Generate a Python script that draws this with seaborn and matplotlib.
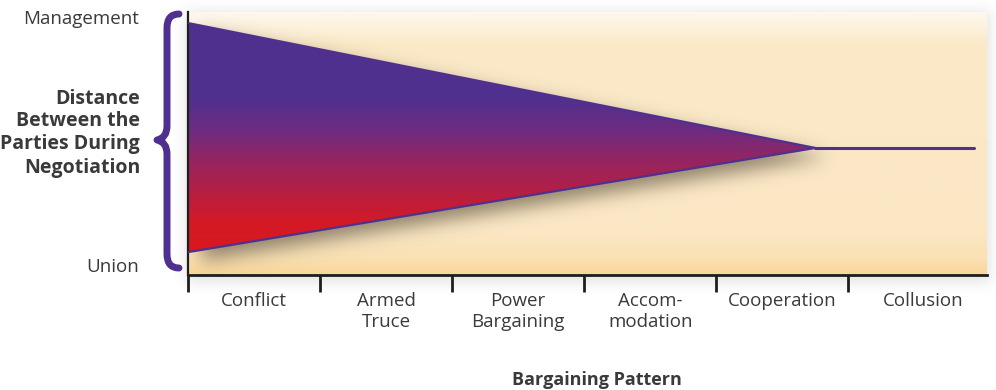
import numpy as np
import matplotlib.pyplot as plt
import seaborn as sns
from matplotlib.colors import LinearSegmentedColormap
from matplotlib.path import Path
from matplotlib.patches import PathPatch, Polygon

# bargaining patterns along the x axis (one unit per pattern)
patterns = ["Conflict", "Armed\nTruce", "Power\nBargaining",
            "Accom-\nmodation", "Cooperation", "Collusion"]
pattern_bounds = [0, 1, 2, 3, 4, 5]
label_pos = [0.5, 1.5, 2.5, 3.5, 4.5, 5.57]

# distance between the parties (0 = union, 10 = management)
wedge_x = [0.0, 4.75, 5.95]
upper = [9.58, 4.83, 4.83]
lower = [0.87, 4.83, 4.83]

W, H = 996, 390
XMAX = 6.05
PURPLE = "#50308f"
TEXT = "#3a3a3a"


def blur(img, sigma):
    r = int(3 * sigma)
    k = np.exp(-np.arange(-r, r + 1) ** 2 / (2 * sigma ** 2))
    k /= k.sum()
    img = np.apply_along_axis(lambda v: np.convolve(v, k, mode="same"), 0, img)
    img = np.apply_along_axis(lambda v: np.convolve(v, k, mode="same"), 1, img)
    return img


sns.set_theme(style="white")
plt.rcParams["font.family"] = ["Open Sans", "DejaVu Sans"]

fig = plt.figure(figsize=(W / 100, H / 100), dpi=100)

# soft shadow around the panel
bgax = fig.add_axes([0, 0, 1, 1], zorder=-5)
panel = np.zeros((H, W))
panel[12:282, 186:990] = 1
halo = blur(panel, 7) * 0.17
rgba = np.zeros((H, W, 4))
rgba[..., :3] = 0.35
rgba[..., 3] = halo
bgax.imshow(rgba, aspect="auto", extent=[0, W, H, 0])
bgax.set_xlim(0, W)
bgax.set_ylim(H, 0)
bgax.axis("off")

ax = fig.add_axes([188 / W, 1 - 275 / H, (987 - 188) / W, (275 - 12) / H])
ax.set_xlim(0, XMAX)
ax.set_ylim(0, 10)
ax.patch.set_visible(False)

# beige panel
bg = LinearSegmentedColormap.from_list(
    "bg", [(0, "#f9d698"), (0.06, "#fae0b2"), (0.16, "#fbe7c4"),
           (0.88, "#fbe9c8"), (0.95, "#fdf2df"), (1, "#fef8ee")])
ax.imshow(np.linspace(0, 1, 256)[:, None], cmap=bg, origin="lower",
          aspect="auto", extent=[0, XMAX, 0, 10], zorder=0)

# wedge polygon
verts = [(wedge_x[0], upper[0]), (wedge_x[1], upper[1]), (wedge_x[0], lower[0])]

# shadow under the wedge
gx = np.linspace(0, XMAX, 800)
gy = np.linspace(0, 10, 263)
XX, YY = np.meshgrid(gx, gy)
pts = np.column_stack([XX.ravel() - 0.1, YY.ravel() + 0.35])
mask = Path(verts).contains_points(pts).reshape(XX.shape).astype(float)
sh = blur(mask, 9)
srgba = np.zeros(mask.shape + (4,))
srgba[..., 0] = 0.40
srgba[..., 1] = 0.36
srgba[..., 2] = 0.28
srgba[..., 3] = sh * 0.7
ax.imshow(srgba, origin="lower", aspect="auto", extent=[0, XMAX, 0, 10], zorder=1)

# gradient fill of the wedge
y0, y1 = lower[0], upper[0]
stops = [(0.87, "#d9181f"), (2.0, "#d41a26"), (3.2, "#b41f45"),
         (4.4, "#932663"), (5.5, "#6d2c81"), (6.7, "#50308f"), (9.58, "#50308f")]
wcmap = LinearSegmentedColormap.from_list(
    "wedge", [((v - y0) / (y1 - y0), c) for v, c in stops])
im = ax.imshow(np.linspace(0, 1, 256)[:, None], cmap=wcmap, origin="lower",
               aspect="auto", extent=[0, wedge_x[1], y0, y1], zorder=2)
clip = Polygon(verts, closed=True, transform=ax.transData)
im.set_clip_path(clip)

# edges of the wedge and the collusion line
sns.lineplot(x=wedge_x[:2], y=upper[:2], color=PURPLE, lw=1.6, ax=ax, zorder=4)
sns.lineplot(x=wedge_x[:2], y=lower[:2], color=PURPLE, lw=1.6, ax=ax, zorder=4)
sns.lineplot(x=wedge_x[1:], y=upper[1:], color=PURPLE, lw=2.2, ax=ax, zorder=4)

# axes styling
for s in ["top", "right"]:
    ax.spines[s].set_visible(False)
ax.spines["left"].set_color("#1e1e1e")
ax.spines["left"].set_linewidth(1.6)
ax.spines["bottom"].set_color("#1e1e1e")
ax.spines["bottom"].set_linewidth(2.0)
ax.set_yticks([])
ax.set_xticks(pattern_bounds)
ax.set_xticklabels([""] * len(pattern_bounds))
ax.set_xticks(label_pos, patterns, minor=True)
ax.tick_params(axis="x", which="major", direction="out", length=12, width=2,
               color="#1e1e1e", bottom=True)
ax.tick_params(axis="x", which="minor", length=0, pad=12, labelsize=13.5,
               labelcolor=TEXT)
for t in ax.get_xticklabels(minor=True):
    t.set_linespacing(1.25)
ax.set_xlabel("")
ax.set_ylabel("")

# left side labels
fig.text(139 / W, 1 - 19 / H, "Management", ha="right", va="center",
         fontsize=13.5, color=TEXT)
fig.text(139 / W, 1 - 267 / H, "Union", ha="right", va="center",
         fontsize=13.5, color=TEXT)
fig.text(140 / W, 1 - 133 / H, "Distance\nBetween the\nParties During\nNegotiation",
         ha="right", va="center", multialignment="right", fontsize=14,
         fontweight="bold", color=TEXT, linespacing=1.2)
fig.text(597 / W, 1 - 380 / H, "Bargaining Pattern", ha="center", va="center",
         fontsize=13, fontweight="bold", color=TEXT)

# curly brace
def fp(x, y):
    return (x / W, 1 - y / H)

brace_pts = [(179, 14), (167, 14), (167, 28), (167, 70),
             (167, 126), (167, 138), (157, 140),
             (167, 142), (167, 154), (167, 200),
             (167, 254), (167, 268), (179, 268)]
codes = [Path.MOVETO, Path.CURVE3, Path.CURVE3, Path.LINETO,
         Path.LINETO, Path.CURVE3, Path.CURVE3,
         Path.CURVE3, Path.CURVE3, Path.LINETO,
         Path.LINETO, Path.CURVE3, Path.CURVE3]
brace = PathPatch(Path([fp(*p) for p in brace_pts], codes), transform=fig.transFigure,
                  fill=False, edgecolor=PURPLE, lw=5, capstyle="round",
                  joinstyle="round")
fig.patches.append(brace)

fig.savefig("out.png", dpi=100)
